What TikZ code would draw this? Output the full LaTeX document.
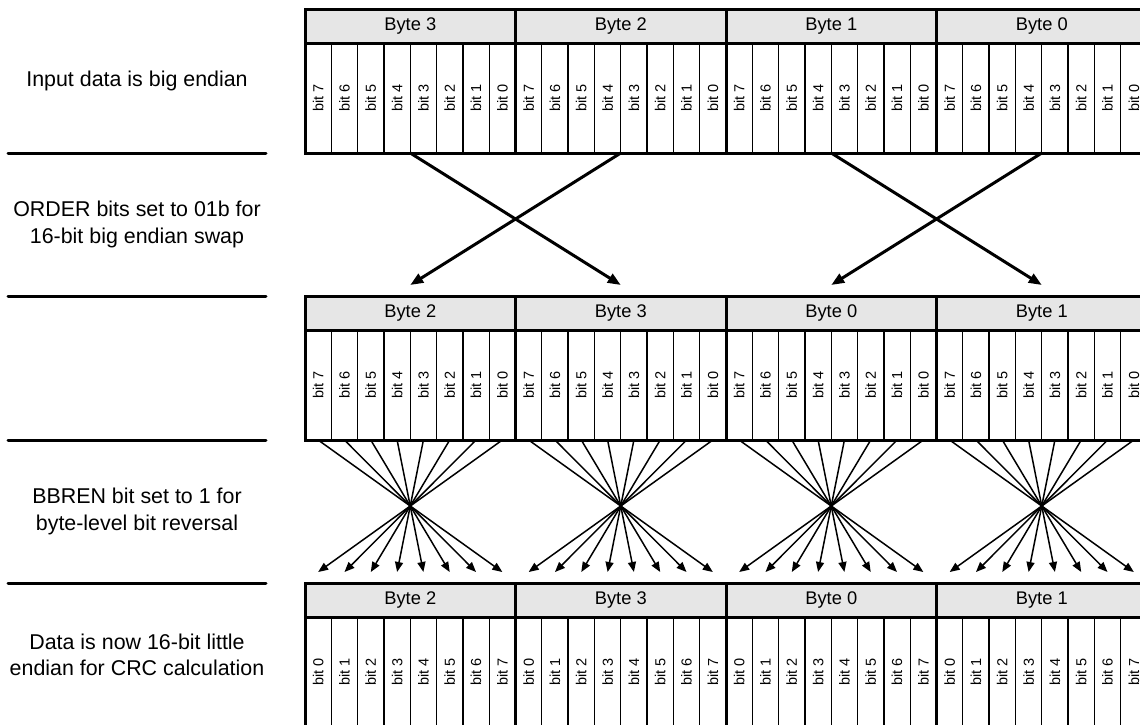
\documentclass[tikz,border=0pt]{standalone}
\usepackage{fontspec}
\setmainfont{Liberation Sans}
\usetikzlibrary{arrows.meta}
\definecolor{hdrgray}{HTML}{E6E6E6}
\begin{document}
\begin{tikzpicture}[x=1pt,y=-1pt,
  hdr/.style={draw=black, line width=1.3pt, fill=hdrgray, minimum width=210.5pt, minimum height=34pt, inner sep=0pt, outer sep=0pt, anchor=north west, font=\fontsize{18.3}{20}\selectfont},
  cell/.style={draw=black, line width=1.3pt, minimum width=26.3125pt, minimum height=110pt, inner sep=0pt, outer sep=0pt, anchor=north west},
  bitlbl/.style={rotate=90, inner sep=0pt, font=\fontsize{14.5}{16}\selectfont},
  side/.style={align=center, font=\fontsize{21.4}{26.5}\selectfont},
  outline/.style={line width=3pt},
  sepline/.style={line width=3pt, line cap=round},
  swaparrow/.style={line width=3pt, -{Triangle[length=13pt,width=10pt]}},
  fanarrow/.style={line width=1.5pt, -{Triangle[length=10pt,width=8pt]}},
]
\useasboundingbox (0,0) rectangle (1140,724);
\clip (0,0) rectangle (1140,724);

% registers
\foreach \r/\yt in {1/9,2/296,3/583} {
  \foreach \p in {0,...,3} {
    \ifnum\r=1 \pgfmathtruncatemacro\bn{3-\p}\else \pgfmathtruncatemacro\bn{mod(\p+2,4)}\fi
    \pgfmathsetmacro\xl{305+210.5*\p}
    \node[hdr] (h\r\p) at (\xl,\yt) {Byte \bn};
    \foreach \k in {0,...,7} {
      \ifnum\r=3 \pgfmathtruncatemacro\lbl{\k}\else \pgfmathtruncatemacro\lbl{7-\k}\fi
      \pgfmathsetmacro\xc{\xl+26.3125*\k}
      \node[cell] (c\r\p\k) at (\xc,\yt+34) {};
      \node[bitlbl] (t\r\p\k) at (c\r\p\k.center) {bit \lbl};
      \coordinate (e\r\p\k) at (c\r\p\k.north |- h\r\p.north);
    }
    \draw[outline] (h\r\p.north west) rectangle (c\r\p7.south east);
    \draw[outline] (h\r\p.south west) -- (h\r\p.south east);
  }
}

% byte swap arrows
\foreach \p/\q in {0/1,1/0,2/3,3/2} {
  \draw[swaparrow] (h1\p.center |- c1\p0.south) -- ([yshift=11pt]h2\q.north);
}

% bit reversal fans
\foreach \p in {0,...,3} {
  \foreach \k in {0,...,7} {
    \pgfmathtruncatemacro\m{7-\k}
    \draw[fanarrow] (c2\p\k.south) -- ([yshift=11pt]e3\p\m);
  }
}

% left side
\draw[sepline] (8,153) -- (266,153);
\draw[sepline] (8,296) -- (266,296);
\draw[sepline] (8,440) -- (266,440);
\draw[sepline] (8,583) -- (266,583);
\node[side] (s1) at (137,81) {Input data is big endian};
\node[side] (s2) at (137,224.5) {ORDER bits set to 01b for\\16-bit big endian swap};
\node[side] (s3) at (137,511.5) {BBREN bit set to 1 for\\byte-level bit reversal};
\node[side] (s4) at (137,655) {Data is now 16-bit little\\endian for CRC calculation};
\end{tikzpicture}
\end{document}
